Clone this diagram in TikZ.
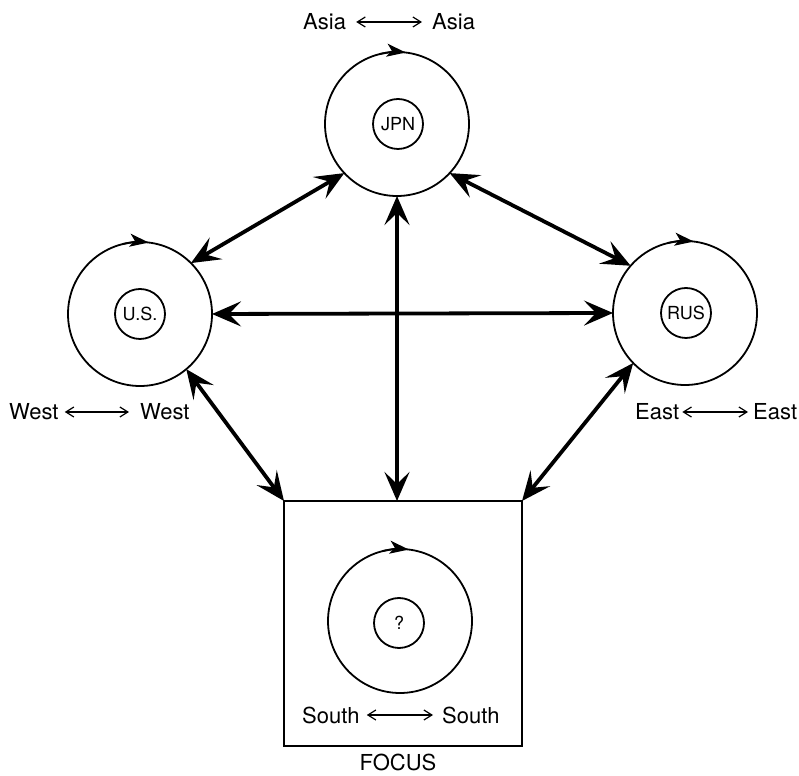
\documentclass[tikz,border=0pt]{standalone}
\usepackage{fontspec}
\setmainfont{TeX Gyre Heros}
\usetikzlibrary{arrows.meta}
\begin{document}
\begin{tikzpicture}[x=1pt,y=1pt,
 big/.style={circle,draw,line width=1.8pt,minimum size=144pt,inner sep=0pt,outer sep=0pt},
 small/.style={circle,draw,line width=1.8pt,minimum size=50pt,inner sep=0pt,font=\fontsize{18}{18}\selectfont},
 lbl/.style={inner sep=0pt,anchor=west,font=\fontsize{22}{22}\selectfont},
 conn/.style={line width=3.8pt,{Stealth[length=29pt,width=25pt,inset=12pt]}-{Stealth[length=29pt,width=25pt,inset=12pt]}},
 thinarrow/.style={line width=1.2pt,{Straight Barb[length=8pt,width=10pt]}-{Straight Barb[length=8pt,width=10pt]}},
 rot/.style={line width=1.8pt,-{Stealth[length=19pt,width=13pt,inset=5pt]}}]
\useasboundingbox[fill=white] (0,0) rectangle (799,775);

% circles
\node[big] (jpn) at (397,651) {};
\node[small] (jpnin) at (398,651) {JPN};
\node[big] (us) at (140,461) {};
\node[small] (usin) at (140,461) {U.S.};
\node[big] (rus) at (685,462) {};
\node[small] (rusin) at (686,462) {RUS};
\node[draw,line width=1.8pt,minimum width=238pt,minimum height=245pt,inner sep=0pt,outer sep=0pt] (box) at (403,151.5) {};
\node[big] (foc) at (400,154) {};
\node[small] (focin) at (399,152) {?};

% rotation arrows
\foreach \c in {jpn,us,rus,foc}{
  \draw[rot] ([shift={(104:72pt)}]\c.center) arc[start angle=104,end angle=83,radius=72pt];
}

% connectors
\draw[conn] (jpn.-137) -- (us.45);
\draw[conn] (jpn.-43) -- (rus.139);
\draw[conn] (us.east) -- (rus.west);
\draw[conn] (jpn.south) -- (jpn.south |- box.north);
\draw[conn] (us.-50) -- (box.north west);
\draw[conn] (rus.-136) -- (box.north east);

% labels
\node[lbl] (asiaL) at (303,753) {Asia};
\node[lbl] (asiaR) at (432,753) {Asia};
\draw[thinarrow] ([xshift=10pt]asiaL.east) -- ([xshift=-10pt]asiaR.west);
\node[lbl] (westL) at (9,363) {West};
\node[lbl] (westR) at (140,363) {West};
\draw[thinarrow] ([xshift=6pt]westL.east) -- ([xshift=-11pt]westR.west);
\node[lbl] (eastL) at (635,363) {East};
\node[lbl] (eastR) at (753,363) {East};
\draw[thinarrow] ([xshift=3pt]eastL.east) -- ([xshift=-5pt]eastR.west);
\node[lbl] (southL) at (302,60) {South};
\node[lbl] (southR) at (442,60) {South};
\draw[thinarrow] ([xshift=7pt]southL.east) -- ([xshift=-9pt]southR.west);
\node[lbl,anchor=center] (focus) at (398,13) {FOCUS};
\end{tikzpicture}
\end{document}
